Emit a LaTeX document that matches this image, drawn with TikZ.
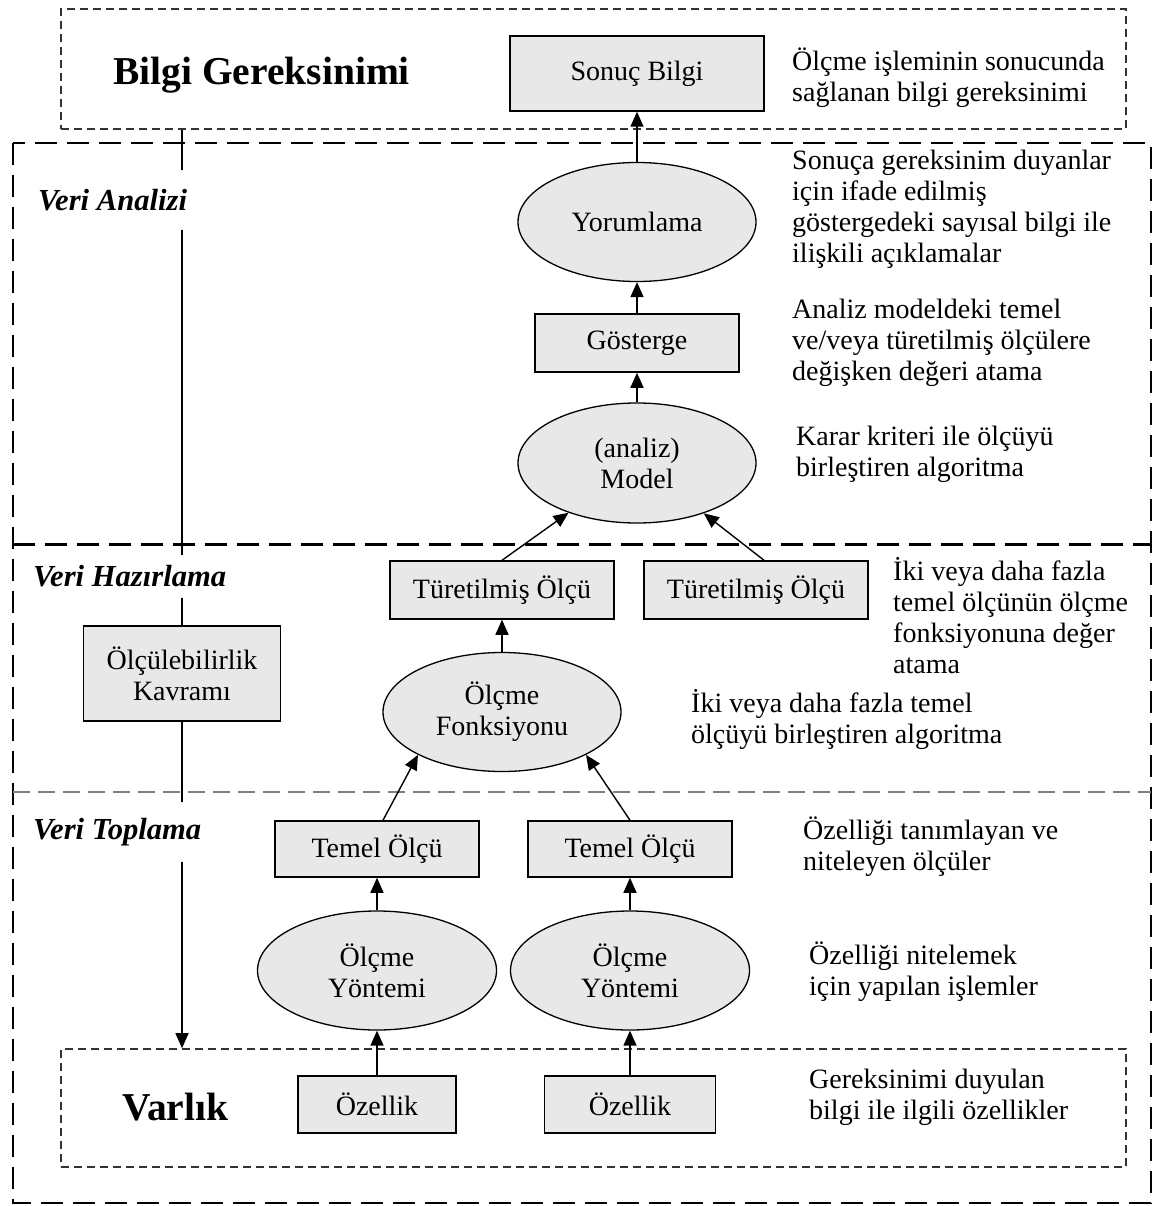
\documentclass[tikz,border=0pt]{standalone}
\usepackage{fontspec}
\setmainfont{Liberation Serif}
\usetikzlibrary{arrows.meta,shapes.geometric}
\definecolor{boxgray}{RGB}{232,232,232}
\definecolor{sepgray}{RGB}{128,128,128}
\definecolor{dashdark}{RGB}{50,50,50}
\newcommand\bodysize{\fontsize{28}{31}\selectfont}
\newcommand\headsize{\fontsize{39.5}{44}\selectfont\bfseries}
\newcommand\phasesize{\fontsize{30.6}{34}\selectfont\bfseries\itshape}

\begin{document}
\begin{tikzpicture}[x=1pt,y=-1pt,
  box/.style={draw, line width=1.5pt, fill=boxgray, rectangle, inner sep=0pt, font=\bodysize, align=center},
  oval/.style={draw, line width=1.3pt, fill=boxgray, ellipse, inner sep=0pt, font=\bodysize, align=center},
  desc/.style={anchor=west, align=left, inner sep=0pt, font=\bodysize},
  region/.style={draw=dashdark, line width=1.6pt, dash pattern=on 8pt off 5pt, rectangle, inner sep=0pt},
  heading/.style={anchor=west, inner sep=0pt, font=\headsize},
  phase/.style={anchor=west, inner xsep=2pt, inner ysep=0pt, fill=white, font=\phasesize},
  up/.style={-{Triangle[length=15pt,width=13pt]}, line width=1.4pt},
]
\useasboundingbox (0,0) rectangle (1153,1206);

% outer frame of the three phases and the phase separators
\draw[line width=2.6pt, dash pattern=on 22pt off 10pt] (13,143) rectangle (1151,1203);
\draw[line width=3pt, dash pattern=on 22pt off 10pt] (13,544) -- (1151,544);
\draw[sepgray, line width=2.6pt, dash pattern=on 17pt off 8pt] (13,792) -- (1151,792);

% information need and entity regions
\node[region, minimum width=1065pt, minimum height=120pt] (need) at (593.5,69) {};
\node[region, minimum width=1065pt, minimum height=118pt] (entity) at (593.5,1108) {};

% measurement chain
\node[box, minimum width=254pt, minimum height=75pt] (sonuc) at (637,73.5) {Sonuç Bilgi};
\node[oval, minimum width=238pt, minimum height=119pt] (yorum) at (637,222) {Yorumlama};
\node[box, minimum width=204pt, minimum height=58pt] (gosterge) at (637,343) {Gösterge};
\node[oval, minimum width=238pt, minimum height=120pt] (model) at (637,463) {(analiz)\\Model};
\node[box, minimum width=224pt, minimum height=58pt] (tur1) at (502,590) {Türetilmiş Ölçü};
\node[box, minimum width=224pt, minimum height=58pt] (tur2) at (756,590) {Türetilmiş Ölçü};
\node[box, minimum width=197pt, minimum height=95pt] (kavram) at (182,673.5) {Ölçülebilirlik\\Kavramı};
\node[oval, minimum width=238pt, minimum height=119pt] (fonk) at (502,712) {Ölçme\\Fonksiyonu};
\node[box, minimum width=204pt, minimum height=56pt] (temel1) at (377,849) {Temel Ölçü};
\node[box, minimum width=204pt, minimum height=56pt] (temel2) at (630,849) {Temel Ölçü};
\node[oval, minimum width=239pt, minimum height=119pt] (yontem1) at (377,970.5) {Ölçme\\Yöntemi};
\node[oval, minimum width=239pt, minimum height=119pt] (yontem2) at (630,970.5) {Ölçme\\Yöntemi};
\node[box, minimum width=158pt, minimum height=57pt] (oz1) at (377,1104.5) {Özellik};
\node[box, minimum width=171pt, minimum height=57pt] (oz2) at (630,1104.5) {Özellik};

% arrows
\draw[up] (yorum.north) -- (sonuc.south);
\draw[up] (gosterge.north) -- (yorum.south);
\draw[up] (model.north) -- (gosterge.south);
\draw[up] (tur1.north) -- (model.216.5);
\draw[up] ([xshift=8pt]tur2.north) -- (model.323);
\draw[up] (fonk.north) -- (tur1.south);
\draw[up] ([xshift=6pt]temel1.north) -- (fonk.207);
\draw[up] (temel2.north) -- (fonk.333);
\draw[up] (yontem1.north) -- (temel1.south);
\draw[up] (yontem2.north) -- (temel2.south);
\draw[up] (oz1.north) -- (yontem1.south);
\draw[up] (oz2.north) -- (yontem2.south);

% measurability axis on the left
\draw[line width=1.4pt] (need.south -| kavram.north) -- (kavram.north);
\draw[up] (kavram.south) -- (kavram.south |- entity.north);

% phase labels
\node[phase, minimum height=60pt] (analiz) at (36,200) {Veri Analizi};
\node[phase, minimum height=43pt] (hazirlama) at (31,576) {Veri Hazırlama};
\node[phase, minimum height=60pt] (toplama) at (31,832) {Veri Toplama};

% region headings
\node[heading] (bilgi) at (113,75) {Bilgi Gereksinimi};
\node[heading] (varlik) at (122,1107) {Varlık};

% explanations
\node[desc] (d1) at (792,77.5) {Ölçme işleminin sonucunda\\sağlanan bilgi gereksinimi};
\node[desc] (d2) at (792,209) {Sonuça gereksinim duyanlar\\için ifade edilmiş\\göstergedeki sayısal bilgi ile\\ilişkili açıklamalar};
\node[desc] (d3) at (792,343) {Analiz modeldeki temel\\ve/veya türetilmiş ölçülere\\değişken değeri atama};
\node[desc] (d4) at (796,454) {Karar kriteri ile ölçüyü\\birleştiren algoritma};
\node[desc] (d5) at (893,616) {İki veya daha fazla\\temel ölçünün ölçme\\fonksiyonuna değer\\atama};
\node[desc] (d6) at (691,719) {İki veya daha fazla temel\\ölçüyü birleştiren algoritma};
\node[desc] (d7) at (803,847) {Özelliği tanımlayan ve\\niteleyen ölçüler};
\node[desc] (d8) at (809,972) {Özelliği nitelemek\\için yapılan işlemler};
\node[desc] (d9) at (809,1097) {Gereksinimi duyulan\\bilgi ile ilgili özellikler};
\end{tikzpicture}
\end{document}
